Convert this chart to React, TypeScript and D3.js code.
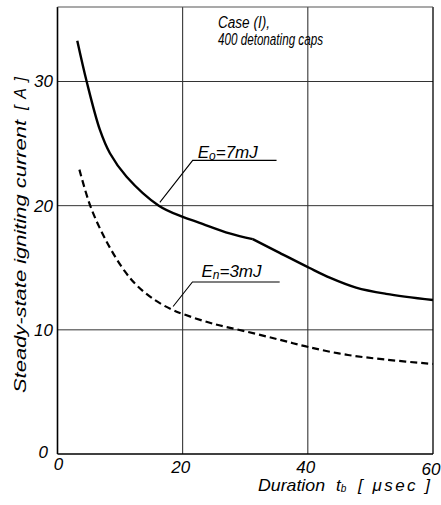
import React from "react";
import * as d3 from "d3";

const xTicks = [0, 20, 40, 60];
const yTicks = [0, 10, 20, 30];
const gridX = [20, 40];
const gridY = [10, 20, 30];

// Eo = 7 mJ (solid) — has a corner at KINK_T
const solidT = [3.16, 4.66, 6.78, 8.4, 11.04, 16.19, 20, 22.7, 27.5, 31.2, 35.5, 40.2, 43.5, 47.7, 52.5, 60];
const solidV = [33.28, 30.0, 26.1, 24.2, 22.33, 20.0, 19.1, 18.62, 17.77, 17.3, 16.2, 15.0, 14.2, 13.4, 12.9, 12.4];
const KINK_T = 31.2;

// En = 3 mJ (dashed)
const dashedT = [3.5, 5.3, 7.85, 10.77, 12.89, 15.55, 18.2, 20.06, 24.8, 30.2, 35.5, 40.2, 46.1, 52.5, 60];
const dashedV = [22.9, 19.9, 17.1, 14.7, 13.47, 12.4, 11.65, 11.27, 10.5, 9.86, 9.2, 8.6, 8.0, 7.6, 7.25];

const titleLines = ["Case (I),", "400 detonating caps"];
const yTitle = "Steady-state igniting current";
const yUnit = "[A]";
const xTitle = "Duration";
const xUnit = "[ μsec ]";

const FONT = "'Liberation Sans', Arial, sans-serif";

export default function App() {
  const W = 441, H = 505;
  const x = d3.scaleLinear().domain([0, 60]).range([57.5, 433]);
  const y = d3.scaleLinear().domain([0, 36]).range([454, 7]);

  const line = d3
    .line<[number, number]>()
    .x((d) => x(d[0]))
    .y((d) => y(d[1]))
    .curve(d3.curveCatmullRom.alpha(0.5));

  const solidPts = solidT.map((t, i) => [t, solidV[i]] as [number, number]);
  const solidA = solidPts.filter((p) => p[0] <= KINK_T);
  const solidB = solidPts.filter((p) => p[0] >= KINK_T);
  const dashedPts = dashedT.map((t, i) => [t, dashedV[i]] as [number, number]);

  const tickLabelY: Record<number, number> = { 0: 470, 20: 473, 40: 473, 60: 475 };

  const poly = (pts: [number, number][]) => pts.map((p) => `${x(p[0])},${y(p[1])}`).join(" ");

  return (
    <svg
      width={W}
      height={H}
      style={{ position: "absolute", left: 0, top: 0, background: "#fff" }}
      fontFamily={FONT}
    >
      <rect x={0} y={0} width={W} height={H} fill="#fff" />
      {/* grid */}
      {gridX.map((v) => (
        <line key={"gx" + v} x1={x(v)} x2={x(v)} y1={y(0)} y2={y(36)} stroke="#222" strokeWidth={1} />
      ))}
      {gridY.map((v) => (
        <line key={"gy" + v} x1={x(0)} x2={x(60)} y1={y(v)} y2={y(v)} stroke="#333" strokeWidth={1} />
      ))}
      {/* frame */}
      <line x1={x(0)} x2={x(0)} y1={y(0)} y2={y(36)} stroke="#000" strokeWidth={1.6} />
      <line x1={x(0)} x2={x(60)} y1={y(0)} y2={y(0)} stroke="#000" strokeWidth={1.6} />
      <line x1={x(60)} x2={x(60)} y1={y(0)} y2={y(36)} stroke="#000" strokeWidth={1.3} />
      <line x1={x(0)} x2={x(60)} y1={y(36)} y2={y(36)} stroke="#555" strokeWidth={1.1} />

      {/* curves */}
      <path d={line(solidA) || ""} fill="none" stroke="#000" strokeWidth={2.4} strokeLinejoin="round" />
      <path d={line(solidB) || ""} fill="none" stroke="#000" strokeWidth={2.4} strokeLinejoin="round" />
      <path d={line(dashedPts) || ""} fill="none" stroke="#000" strokeWidth={2.2} strokeDasharray="7 4" />

      {/* annotations */}
      <polyline
        points={poly([
          [16.35, 20.27],
          [21.6, 23.65],
          [35.0, 23.65],
        ])}
        fill="none"
        stroke="#000"
        strokeWidth={1.1}
      />
      <text x={x(22.4)} y={y(23.8)} fontSize={17} fontStyle="italic">
        E<tspan fontSize={12} dy={2}>o</tspan>
        <tspan dy={-2}>=7mJ</tspan>
      </text>
      <polyline
        points={poly([
          [18.47, 11.88],
          [21.56, 13.85],
          [35.5, 13.85],
        ])}
        fill="none"
        stroke="#000"
        strokeWidth={1.1}
      />
      <text x={x(23.0)} y={y(14.27)} fontSize={17} fontStyle="italic">
        E<tspan fontSize={12} dy={2}>n</tspan>
        <tspan dy={-2}>=3mJ</tspan>
      </text>

      {/* title */}
      <text x={218} y={28} fontSize={16} fontStyle="italic" textLength={52} lengthAdjust="spacingAndGlyphs">
        {titleLines[0]}
      </text>
      <text x={218} y={45} fontSize={16} fontStyle="italic" textLength={105} lengthAdjust="spacingAndGlyphs">
        {titleLines[1]}
      </text>

      {/* y tick labels */}
      {yTicks.map((v) => (
        <text
          key={"yt" + v}
          x={v === 0 ? 48 : 53}
          y={v === 0 ? y(0) - 2 : y(v)}
          dy="0.35em"
          textAnchor="end"
          fontSize={17}
          fontStyle="italic"
        >
          {v}
        </text>
      ))}
      {/* x tick labels */}
      {xTicks.map((v) => (
        <text
          key={"xt" + v}
          x={v === 0 ? x(0) + 1 : x(v) - 2}
          y={tickLabelY[v]}
          textAnchor="middle"
          fontSize={17}
          fontStyle="italic"
        >
          {v}
        </text>
      ))}

      {/* y title */}
      <g transform="translate(26,393) rotate(-90)">
        <text x={0} y={0} fontSize={16} fontStyle="italic" textLength={273} lengthAdjust="spacingAndGlyphs">
          {yTitle}
        </text>
        <text x={283} y={0} fontSize={16} fontStyle="italic" textLength={33} lengthAdjust="spacing">
          {yUnit}
        </text>
      </g>

      {/* x title */}
      <text x={258} y={491} fontSize={17} fontStyle="italic" textLength={67} lengthAdjust="spacingAndGlyphs">
        {xTitle}
      </text>
      <text x={336} y={491} fontSize={17} fontStyle="italic">
        t<tspan fontSize={10} dy={1}>b</tspan>
      </text>
      <text x={358} y={491} fontSize={17} fontStyle="italic" textLength={72} lengthAdjust="spacing">
        {xUnit}
      </text>
    </svg>
  );
}
